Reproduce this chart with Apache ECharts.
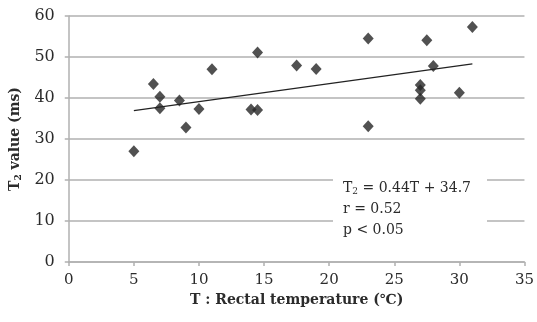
<!DOCTYPE html>
<html>
<head>
<meta charset="utf-8">
<script src="https://cdn.jsdelivr.net/npm/echarts@6/dist/echarts.min.js"></script>
<style>
  html, body { margin: 0; padding: 0; background: #fff; }
  #chart { width: 537px; height: 322px; }
</style>
</head>
<body>
<div id="chart"></div>
<script>
// rectal temperature (°C) vs T2 value (ms)
const temps = [5, 6.5, 7, 7, 8.5, 9, 10, 11, 14, 14.5, 14.5, 17.5, 19, 23, 23, 27, 27, 27, 27.5, 28, 30, 31]
const t2Values = [27, 43.4, 40.3, 37.5, 39.4, 32.8, 37.3, 47, 37.2, 37.1, 51.1, 47.9, 47.1, 54.5, 33.1, 43.2, 41.9, 39.8, 54.1, 47.8, 41.3, 57.3]

// regression line endpoints (T2 = 0.44T + 34.7)
const fitX = [5, 31]
const fitY = [36.9, 48.3]

const xTicks = [0, 5, 10, 15, 20, 25, 30, 35]
const yTicks = [0, 10, 20, 30, 40, 50, 60]

const serif = "'DejaVu Serif', 'Liberation Serif', serif"
const ink = '#2b2b2b'
const gridGray = '#b0b0b0'

const chart = echarts.init(document.getElementById('chart'))

chart.setOption({
    backgroundColor: '#fff',
    animation: false,
    grid: { left: 65, right: 9, top: 16, bottom: 60 },
    xAxis: {
        type: 'value',
        min: xTicks[0],
        max: xTicks[xTicks.length - 1],
        interval: 5,
        name: 'T : Rectal temperature (℃)',
        nameLocation: 'middle',
        nameGap: 31,
        nameTextStyle: { fontFamily: serif, fontWeight: 'bold', fontSize: 14, color: ink },
        axisLine: { lineStyle: { color: gridGray, width: 1.5 } },
        axisTick: { show: true, length: 4, lineStyle: { color: gridGray, width: 1.5 } },
        axisLabel: { fontFamily: serif, fontSize: 15, color: ink, margin: 11 },
        splitLine: { show: false }
    },
    yAxis: {
        type: 'value',
        min: yTicks[0],
        max: yTicks[yTicks.length - 1],
        interval: 10,
        name: '{b|T}{s|2}{b| value (ms)}',
        nameLocation: 'middle',
        nameGap: 44,
        nameRotate: 90,
        nameTextStyle: {
            color: ink,
            rich: {
                b: { fontFamily: serif, fontWeight: 'bold', fontSize: 14, color: ink },
                s: { fontFamily: serif, fontWeight: 'bold', fontSize: 9, color: ink, padding: [8, 0, 0, 0] }
            }
        },
        axisLine: { show: true, lineStyle: { color: gridGray, width: 1.5 } },
        axisTick: { show: true, length: 4, lineStyle: { color: gridGray, width: 1.5 } },
        axisLabel: { fontFamily: serif, fontSize: 16, color: ink, margin: 14 },
        splitLine: { show: true, lineStyle: { color: gridGray, width: 1.5 } }
    },
    graphic: [
        {
            type: 'rect',
            shape: { x: 333, y: 172, width: 154, height: 66 },
            style: { fill: '#fff' },
            z: 5
        },
        {
            type: 'text',
            x: 343,
            y: 178,
            z: 6,
            style: {
                text: '{n|T}{s|2}{n| = 0.44T + 34.7}\n{n|r = 0.52}\n{n|p < 0.05}',
                lineHeight: 21,
                rich: {
                    n: { fontFamily: serif, fontSize: 14, fill: ink, lineHeight: 21 },
                    s: { fontFamily: serif, fontSize: 9, fill: ink, padding: [6, 0, 0, 0], lineHeight: 21 }
                }
            }
        }
    ],
    series: [
        {
            type: 'scatter',
            symbol: 'diamond',
            symbolSize: [11, 12],
            itemStyle: { color: '#262626' },
            data: temps.map((t, i) => [t, t2Values[i]]),
            z: 3
        },
        {
            type: 'line',
            data: fitX.map((x, i) => [x, fitY[i]]),
            symbol: 'none',
            lineStyle: { color: '#222', width: 1.3 },
            z: 4
        }
    ]
})
</script>
</body>
</html>
